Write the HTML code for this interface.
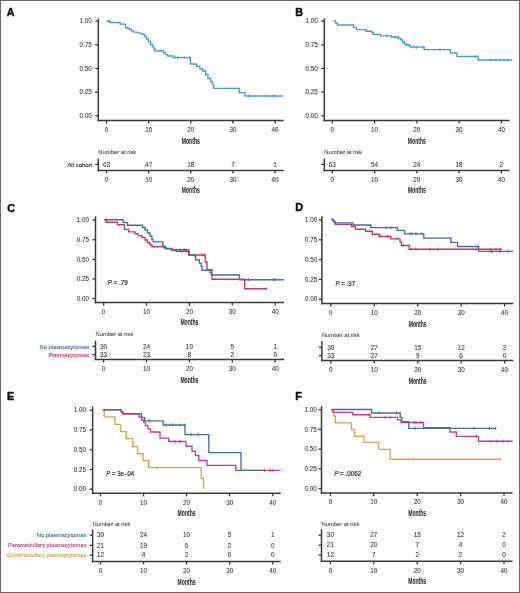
<!DOCTYPE html>
<html><head><meta charset="utf-8"><style>
html,body{margin:0;padding:0;background:#fff;}
.wrap{position:relative;width:520px;height:593px;overflow:hidden;background:#fff;}
.frame{position:absolute;left:0;top:0;width:518px;height:591px;border:1px solid #666;}
svg{position:absolute;left:0;top:0;will-change:transform;}
text{font-family:"Liberation Sans", sans-serif;}
</style></head><body><div class="wrap">
<svg width="520" height="593" viewBox="0 0 520 593">
<line x1="98.3" y1="18.5" x2="98.3" y2="121.35" stroke="#3a3a3a" stroke-width="1.5"/>
<line x1="97.55" y1="120.6" x2="283.7" y2="120.6" stroke="#3a3a3a" stroke-width="1.5"/>
<line x1="95.3" y1="115.8" x2="98.3" y2="115.8" stroke="#3a3a3a" stroke-width="1.3"/>
<text x="91.8" y="118.06" font-size="6.3" text-anchor="end" fill="#333333" stroke="#333333" stroke-width="0.06">0.00</text>
<line x1="95.3" y1="92.15" x2="98.3" y2="92.15" stroke="#3a3a3a" stroke-width="1.3"/>
<text x="91.8" y="94.41" font-size="6.3" text-anchor="end" fill="#333333" stroke="#333333" stroke-width="0.06">0.25</text>
<line x1="95.3" y1="68.5" x2="98.3" y2="68.5" stroke="#3a3a3a" stroke-width="1.3"/>
<text x="91.8" y="70.76" font-size="6.3" text-anchor="end" fill="#333333" stroke="#333333" stroke-width="0.06">0.50</text>
<line x1="95.3" y1="44.85" x2="98.3" y2="44.85" stroke="#3a3a3a" stroke-width="1.3"/>
<text x="91.8" y="47.11" font-size="6.3" text-anchor="end" fill="#333333" stroke="#333333" stroke-width="0.06">0.75</text>
<line x1="95.3" y1="21.2" x2="98.3" y2="21.2" stroke="#3a3a3a" stroke-width="1.3"/>
<text x="91.8" y="23.46" font-size="6.3" text-anchor="end" fill="#333333" stroke="#333333" stroke-width="0.06">1.00</text>
<line x1="106.5" y1="120.6" x2="106.5" y2="123.6" stroke="#3a3a3a" stroke-width="1.3"/>
<text x="106.5" y="132.46" font-size="6.3" text-anchor="middle" fill="#333333" stroke="#333333" stroke-width="0.06">0</text>
<line x1="148.65" y1="120.6" x2="148.65" y2="123.6" stroke="#3a3a3a" stroke-width="1.3"/>
<text x="148.65" y="132.46" font-size="6.3" text-anchor="middle" fill="#333333" stroke="#333333" stroke-width="0.06">10</text>
<line x1="190.8" y1="120.6" x2="190.8" y2="123.6" stroke="#3a3a3a" stroke-width="1.3"/>
<text x="190.8" y="132.46" font-size="6.3" text-anchor="middle" fill="#333333" stroke="#333333" stroke-width="0.06">20</text>
<line x1="232.95" y1="120.6" x2="232.95" y2="123.6" stroke="#3a3a3a" stroke-width="1.3"/>
<text x="232.95" y="132.46" font-size="6.3" text-anchor="middle" fill="#333333" stroke="#333333" stroke-width="0.06">30</text>
<line x1="275.1" y1="120.6" x2="275.1" y2="123.6" stroke="#3a3a3a" stroke-width="1.3"/>
<text x="275.1" y="132.46" font-size="6.3" text-anchor="middle" fill="#333333" stroke="#333333" stroke-width="0.06">40</text>
<text x="190.8" y="143.68" font-size="8.6" text-anchor="middle" fill="#2a2a2a" stroke="#2a2a2a" stroke-width="0.06" font-weight="bold" textLength="18" lengthAdjust="spacingAndGlyphs">Months</text>
<text x="98.3" y="154.35" font-size="6" text-anchor="start" fill="#3c3c3c" stroke="#3c3c3c" stroke-width="0.06" textLength="38" lengthAdjust="spacingAndGlyphs">Number at risk</text>
<line x1="98.3" y1="158.6" x2="98.3" y2="171.25" stroke="#3a3a3a" stroke-width="1.5"/>
<line x1="97.55" y1="170.5" x2="283.7" y2="170.5" stroke="#3a3a3a" stroke-width="1.5"/>
<line x1="95.3" y1="164.4" x2="98.3" y2="164.4" stroke="#3a3a3a" stroke-width="1.3"/>
<text x="92.2" y="166.58" font-size="6.1" text-anchor="end" fill="#2a2a2a" stroke="#2a2a2a" stroke-width="0.14" textLength="24.8" lengthAdjust="spacingAndGlyphs">All cohort</text>
<text x="106.5" y="166.69" font-size="6.4" text-anchor="middle" fill="#333333" stroke="#333333" stroke-width="0.06">63</text>
<text x="148.65" y="166.69" font-size="6.4" text-anchor="middle" fill="#333333" stroke="#333333" stroke-width="0.06">47</text>
<text x="190.8" y="166.69" font-size="6.4" text-anchor="middle" fill="#333333" stroke="#333333" stroke-width="0.06">18</text>
<text x="232.95" y="166.69" font-size="6.4" text-anchor="middle" fill="#333333" stroke="#333333" stroke-width="0.06">7</text>
<text x="275.1" y="166.69" font-size="6.4" text-anchor="middle" fill="#333333" stroke="#333333" stroke-width="0.06">1</text>
<line x1="106.5" y1="170.5" x2="106.5" y2="173.5" stroke="#3a3a3a" stroke-width="1.3"/>
<text x="106.5" y="182.16" font-size="6.3" text-anchor="middle" fill="#333333" stroke="#333333" stroke-width="0.06">0</text>
<line x1="148.65" y1="170.5" x2="148.65" y2="173.5" stroke="#3a3a3a" stroke-width="1.3"/>
<text x="148.65" y="182.16" font-size="6.3" text-anchor="middle" fill="#333333" stroke="#333333" stroke-width="0.06">10</text>
<line x1="190.8" y1="170.5" x2="190.8" y2="173.5" stroke="#3a3a3a" stroke-width="1.3"/>
<text x="190.8" y="182.16" font-size="6.3" text-anchor="middle" fill="#333333" stroke="#333333" stroke-width="0.06">20</text>
<line x1="232.95" y1="170.5" x2="232.95" y2="173.5" stroke="#3a3a3a" stroke-width="1.3"/>
<text x="232.95" y="182.16" font-size="6.3" text-anchor="middle" fill="#333333" stroke="#333333" stroke-width="0.06">30</text>
<line x1="275.1" y1="170.5" x2="275.1" y2="173.5" stroke="#3a3a3a" stroke-width="1.3"/>
<text x="275.1" y="182.16" font-size="6.3" text-anchor="middle" fill="#333333" stroke="#333333" stroke-width="0.06">40</text>
<text x="190.8" y="193.48" font-size="8.6" text-anchor="middle" fill="#2a2a2a" stroke="#2a2a2a" stroke-width="0.06" font-weight="bold" textLength="18" lengthAdjust="spacingAndGlyphs">Months</text>
<text x="6.8" y="15.77" font-size="10.8" font-weight="bold" fill="#111" stroke="#111" stroke-width="0.45">A</text>
<line x1="324.3" y1="18.5" x2="324.3" y2="121.35" stroke="#3a3a3a" stroke-width="1.5"/>
<line x1="323.55" y1="120.6" x2="509.6" y2="120.6" stroke="#3a3a3a" stroke-width="1.5"/>
<line x1="321.3" y1="115.8" x2="324.3" y2="115.8" stroke="#3a3a3a" stroke-width="1.3"/>
<text x="317.8" y="118.06" font-size="6.3" text-anchor="end" fill="#333333" stroke="#333333" stroke-width="0.06">0.00</text>
<line x1="321.3" y1="92.15" x2="324.3" y2="92.15" stroke="#3a3a3a" stroke-width="1.3"/>
<text x="317.8" y="94.41" font-size="6.3" text-anchor="end" fill="#333333" stroke="#333333" stroke-width="0.06">0.25</text>
<line x1="321.3" y1="68.5" x2="324.3" y2="68.5" stroke="#3a3a3a" stroke-width="1.3"/>
<text x="317.8" y="70.76" font-size="6.3" text-anchor="end" fill="#333333" stroke="#333333" stroke-width="0.06">0.50</text>
<line x1="321.3" y1="44.85" x2="324.3" y2="44.85" stroke="#3a3a3a" stroke-width="1.3"/>
<text x="317.8" y="47.11" font-size="6.3" text-anchor="end" fill="#333333" stroke="#333333" stroke-width="0.06">0.75</text>
<line x1="321.3" y1="21.2" x2="324.3" y2="21.2" stroke="#3a3a3a" stroke-width="1.3"/>
<text x="317.8" y="23.46" font-size="6.3" text-anchor="end" fill="#333333" stroke="#333333" stroke-width="0.06">1.00</text>
<line x1="332.3" y1="120.6" x2="332.3" y2="123.6" stroke="#3a3a3a" stroke-width="1.3"/>
<text x="332.3" y="132.46" font-size="6.3" text-anchor="middle" fill="#333333" stroke="#333333" stroke-width="0.06">0</text>
<line x1="374.57" y1="120.6" x2="374.57" y2="123.6" stroke="#3a3a3a" stroke-width="1.3"/>
<text x="374.57" y="132.46" font-size="6.3" text-anchor="middle" fill="#333333" stroke="#333333" stroke-width="0.06">10</text>
<line x1="416.85" y1="120.6" x2="416.85" y2="123.6" stroke="#3a3a3a" stroke-width="1.3"/>
<text x="416.85" y="132.46" font-size="6.3" text-anchor="middle" fill="#333333" stroke="#333333" stroke-width="0.06">20</text>
<line x1="459.12" y1="120.6" x2="459.12" y2="123.6" stroke="#3a3a3a" stroke-width="1.3"/>
<text x="459.12" y="132.46" font-size="6.3" text-anchor="middle" fill="#333333" stroke="#333333" stroke-width="0.06">30</text>
<line x1="501.4" y1="120.6" x2="501.4" y2="123.6" stroke="#3a3a3a" stroke-width="1.3"/>
<text x="501.4" y="132.46" font-size="6.3" text-anchor="middle" fill="#333333" stroke="#333333" stroke-width="0.06">40</text>
<text x="416.85" y="143.68" font-size="8.6" text-anchor="middle" fill="#2a2a2a" stroke="#2a2a2a" stroke-width="0.06" font-weight="bold" textLength="18" lengthAdjust="spacingAndGlyphs">Months</text>
<text x="324.3" y="154.35" font-size="6" text-anchor="start" fill="#3c3c3c" stroke="#3c3c3c" stroke-width="0.06" textLength="38" lengthAdjust="spacingAndGlyphs">Number at risk</text>
<line x1="324.3" y1="158.6" x2="324.3" y2="171.25" stroke="#3a3a3a" stroke-width="1.5"/>
<line x1="323.55" y1="170.5" x2="509.6" y2="170.5" stroke="#3a3a3a" stroke-width="1.5"/>
<line x1="321.3" y1="164.4" x2="324.3" y2="164.4" stroke="#3a3a3a" stroke-width="1.3"/>
<text x="332.3" y="166.69" font-size="6.4" text-anchor="middle" fill="#333333" stroke="#333333" stroke-width="0.06">63</text>
<text x="374.57" y="166.69" font-size="6.4" text-anchor="middle" fill="#333333" stroke="#333333" stroke-width="0.06">54</text>
<text x="416.85" y="166.69" font-size="6.4" text-anchor="middle" fill="#333333" stroke="#333333" stroke-width="0.06">24</text>
<text x="459.12" y="166.69" font-size="6.4" text-anchor="middle" fill="#333333" stroke="#333333" stroke-width="0.06">18</text>
<text x="501.4" y="166.69" font-size="6.4" text-anchor="middle" fill="#333333" stroke="#333333" stroke-width="0.06">2</text>
<line x1="332.3" y1="170.5" x2="332.3" y2="173.5" stroke="#3a3a3a" stroke-width="1.3"/>
<text x="332.3" y="182.16" font-size="6.3" text-anchor="middle" fill="#333333" stroke="#333333" stroke-width="0.06">0</text>
<line x1="374.57" y1="170.5" x2="374.57" y2="173.5" stroke="#3a3a3a" stroke-width="1.3"/>
<text x="374.57" y="182.16" font-size="6.3" text-anchor="middle" fill="#333333" stroke="#333333" stroke-width="0.06">10</text>
<line x1="416.85" y1="170.5" x2="416.85" y2="173.5" stroke="#3a3a3a" stroke-width="1.3"/>
<text x="416.85" y="182.16" font-size="6.3" text-anchor="middle" fill="#333333" stroke="#333333" stroke-width="0.06">20</text>
<line x1="459.12" y1="170.5" x2="459.12" y2="173.5" stroke="#3a3a3a" stroke-width="1.3"/>
<text x="459.12" y="182.16" font-size="6.3" text-anchor="middle" fill="#333333" stroke="#333333" stroke-width="0.06">30</text>
<line x1="501.4" y1="170.5" x2="501.4" y2="173.5" stroke="#3a3a3a" stroke-width="1.3"/>
<text x="501.4" y="182.16" font-size="6.3" text-anchor="middle" fill="#333333" stroke="#333333" stroke-width="0.06">40</text>
<text x="416.85" y="193.48" font-size="8.6" text-anchor="middle" fill="#2a2a2a" stroke="#2a2a2a" stroke-width="0.06" font-weight="bold" textLength="18" lengthAdjust="spacingAndGlyphs">Months</text>
<text x="295.3" y="15.77" font-size="10.8" font-weight="bold" fill="#111" stroke="#111" stroke-width="0.45">B</text>
<line x1="95.5" y1="216.3" x2="95.5" y2="303.35" stroke="#3a3a3a" stroke-width="1.5"/>
<line x1="94.75" y1="302.6" x2="284" y2="302.6" stroke="#3a3a3a" stroke-width="1.5"/>
<line x1="92.5" y1="298.6" x2="95.5" y2="298.6" stroke="#3a3a3a" stroke-width="1.3"/>
<text x="89" y="300.86" font-size="6.3" text-anchor="end" fill="#333333" stroke="#333333" stroke-width="0.06">0.00</text>
<line x1="92.5" y1="278.98" x2="95.5" y2="278.98" stroke="#3a3a3a" stroke-width="1.3"/>
<text x="89" y="281.23" font-size="6.3" text-anchor="end" fill="#333333" stroke="#333333" stroke-width="0.06">0.25</text>
<line x1="92.5" y1="259.35" x2="95.5" y2="259.35" stroke="#3a3a3a" stroke-width="1.3"/>
<text x="89" y="261.61" font-size="6.3" text-anchor="end" fill="#333333" stroke="#333333" stroke-width="0.06">0.50</text>
<line x1="92.5" y1="239.72" x2="95.5" y2="239.72" stroke="#3a3a3a" stroke-width="1.3"/>
<text x="89" y="241.98" font-size="6.3" text-anchor="end" fill="#333333" stroke="#333333" stroke-width="0.06">0.75</text>
<line x1="92.5" y1="220.1" x2="95.5" y2="220.1" stroke="#3a3a3a" stroke-width="1.3"/>
<text x="89" y="222.36" font-size="6.3" text-anchor="end" fill="#333333" stroke="#333333" stroke-width="0.06">1.00</text>
<line x1="103.6" y1="302.6" x2="103.6" y2="305.6" stroke="#3a3a3a" stroke-width="1.3"/>
<text x="103.6" y="313.56" font-size="6.3" text-anchor="middle" fill="#333333" stroke="#333333" stroke-width="0.06">0</text>
<line x1="146.5" y1="302.6" x2="146.5" y2="305.6" stroke="#3a3a3a" stroke-width="1.3"/>
<text x="146.5" y="313.56" font-size="6.3" text-anchor="middle" fill="#333333" stroke="#333333" stroke-width="0.06">10</text>
<line x1="189.4" y1="302.6" x2="189.4" y2="305.6" stroke="#3a3a3a" stroke-width="1.3"/>
<text x="189.4" y="313.56" font-size="6.3" text-anchor="middle" fill="#333333" stroke="#333333" stroke-width="0.06">20</text>
<line x1="232.3" y1="302.6" x2="232.3" y2="305.6" stroke="#3a3a3a" stroke-width="1.3"/>
<text x="232.3" y="313.56" font-size="6.3" text-anchor="middle" fill="#333333" stroke="#333333" stroke-width="0.06">30</text>
<line x1="275.2" y1="302.6" x2="275.2" y2="305.6" stroke="#3a3a3a" stroke-width="1.3"/>
<text x="275.2" y="313.56" font-size="6.3" text-anchor="middle" fill="#333333" stroke="#333333" stroke-width="0.06">40</text>
<text x="189.4" y="325.28" font-size="8.6" text-anchor="middle" fill="#2a2a2a" stroke="#2a2a2a" stroke-width="0.06" font-weight="bold" textLength="18" lengthAdjust="spacingAndGlyphs">Months</text>
<text x="95.5" y="335.75" font-size="6" text-anchor="start" fill="#3c3c3c" stroke="#3c3c3c" stroke-width="0.06" textLength="37.8" lengthAdjust="spacingAndGlyphs">Number at risk</text>
<line x1="95.5" y1="340.8" x2="95.5" y2="360.15" stroke="#3a3a3a" stroke-width="1.5"/>
<line x1="94.75" y1="359.4" x2="284" y2="359.4" stroke="#3a3a3a" stroke-width="1.5"/>
<line x1="92.5" y1="346.4" x2="95.5" y2="346.4" stroke="#3a3a3a" stroke-width="1.3"/>
<text x="89.2" y="348.58" font-size="6.1" text-anchor="end" fill="#4a6e94" stroke="#4a6e94" stroke-width="0.14" textLength="49.7" lengthAdjust="spacingAndGlyphs">No plasmacytomas</text>
<text x="103.6" y="348.69" font-size="6.4" text-anchor="middle" fill="#333333" stroke="#333333" stroke-width="0.06">30</text>
<text x="146.5" y="348.69" font-size="6.4" text-anchor="middle" fill="#333333" stroke="#333333" stroke-width="0.06">24</text>
<text x="189.4" y="348.69" font-size="6.4" text-anchor="middle" fill="#333333" stroke="#333333" stroke-width="0.06">10</text>
<text x="232.3" y="348.69" font-size="6.4" text-anchor="middle" fill="#333333" stroke="#333333" stroke-width="0.06">5</text>
<text x="275.2" y="348.69" font-size="6.4" text-anchor="middle" fill="#333333" stroke="#333333" stroke-width="0.06">1</text>
<line x1="92.5" y1="354.7" x2="95.5" y2="354.7" stroke="#3a3a3a" stroke-width="1.3"/>
<text x="89.2" y="356.88" font-size="6.1" text-anchor="end" fill="#c8385a" stroke="#c8385a" stroke-width="0.14" textLength="40.8" lengthAdjust="spacingAndGlyphs">Plasmacytomas</text>
<text x="103.6" y="356.99" font-size="6.4" text-anchor="middle" fill="#333333" stroke="#333333" stroke-width="0.06">33</text>
<text x="146.5" y="356.99" font-size="6.4" text-anchor="middle" fill="#333333" stroke="#333333" stroke-width="0.06">23</text>
<text x="189.4" y="356.99" font-size="6.4" text-anchor="middle" fill="#333333" stroke="#333333" stroke-width="0.06">8</text>
<text x="232.3" y="356.99" font-size="6.4" text-anchor="middle" fill="#333333" stroke="#333333" stroke-width="0.06">2</text>
<text x="275.2" y="356.99" font-size="6.4" text-anchor="middle" fill="#333333" stroke="#333333" stroke-width="0.06">0</text>
<line x1="103.6" y1="359.4" x2="103.6" y2="362.4" stroke="#3a3a3a" stroke-width="1.3"/>
<text x="103.6" y="370.86" font-size="6.3" text-anchor="middle" fill="#333333" stroke="#333333" stroke-width="0.06">0</text>
<line x1="146.5" y1="359.4" x2="146.5" y2="362.4" stroke="#3a3a3a" stroke-width="1.3"/>
<text x="146.5" y="370.86" font-size="6.3" text-anchor="middle" fill="#333333" stroke="#333333" stroke-width="0.06">10</text>
<line x1="189.4" y1="359.4" x2="189.4" y2="362.4" stroke="#3a3a3a" stroke-width="1.3"/>
<text x="189.4" y="370.86" font-size="6.3" text-anchor="middle" fill="#333333" stroke="#333333" stroke-width="0.06">20</text>
<line x1="232.3" y1="359.4" x2="232.3" y2="362.4" stroke="#3a3a3a" stroke-width="1.3"/>
<text x="232.3" y="370.86" font-size="6.3" text-anchor="middle" fill="#333333" stroke="#333333" stroke-width="0.06">30</text>
<line x1="275.2" y1="359.4" x2="275.2" y2="362.4" stroke="#3a3a3a" stroke-width="1.3"/>
<text x="275.2" y="370.86" font-size="6.3" text-anchor="middle" fill="#333333" stroke="#333333" stroke-width="0.06">40</text>
<text x="189.4" y="382.68" font-size="8.6" text-anchor="middle" fill="#2a2a2a" stroke="#2a2a2a" stroke-width="0.06" font-weight="bold" textLength="18" lengthAdjust="spacingAndGlyphs">Months</text>
<text x="7.2" y="212.07" font-size="10.8" font-weight="bold" fill="#111" stroke="#111" stroke-width="0.45">C</text>
<text x="107.7" y="285.16" font-size="6.6" fill="#333333" stroke="#333" stroke-width="0.22" textLength="20" lengthAdjust="spacingAndGlyphs"><tspan font-style="italic">P</tspan> = .79</text>
<line x1="321.9" y1="216.2" x2="321.9" y2="304.25" stroke="#3a3a3a" stroke-width="1.5"/>
<line x1="321.15" y1="303.5" x2="513.3" y2="303.5" stroke="#3a3a3a" stroke-width="1.5"/>
<line x1="318.9" y1="299.2" x2="321.9" y2="299.2" stroke="#3a3a3a" stroke-width="1.3"/>
<text x="317.2" y="301.46" font-size="6.3" text-anchor="end" fill="#333333" stroke="#333333" stroke-width="0.06">0.00</text>
<line x1="318.9" y1="279.4" x2="321.9" y2="279.4" stroke="#3a3a3a" stroke-width="1.3"/>
<text x="317.2" y="281.66" font-size="6.3" text-anchor="end" fill="#333333" stroke="#333333" stroke-width="0.06">0.25</text>
<line x1="318.9" y1="259.6" x2="321.9" y2="259.6" stroke="#3a3a3a" stroke-width="1.3"/>
<text x="317.2" y="261.86" font-size="6.3" text-anchor="end" fill="#333333" stroke="#333333" stroke-width="0.06">0.50</text>
<line x1="318.9" y1="239.8" x2="321.9" y2="239.8" stroke="#3a3a3a" stroke-width="1.3"/>
<text x="317.2" y="242.06" font-size="6.3" text-anchor="end" fill="#333333" stroke="#333333" stroke-width="0.06">0.75</text>
<line x1="318.9" y1="220" x2="321.9" y2="220" stroke="#3a3a3a" stroke-width="1.3"/>
<text x="317.2" y="222.26" font-size="6.3" text-anchor="end" fill="#333333" stroke="#333333" stroke-width="0.06">1.00</text>
<line x1="330.8" y1="303.5" x2="330.8" y2="306.5" stroke="#3a3a3a" stroke-width="1.3"/>
<text x="330.8" y="314.56" font-size="6.3" text-anchor="middle" fill="#333333" stroke="#333333" stroke-width="0.06">0</text>
<line x1="374.25" y1="303.5" x2="374.25" y2="306.5" stroke="#3a3a3a" stroke-width="1.3"/>
<text x="374.25" y="314.56" font-size="6.3" text-anchor="middle" fill="#333333" stroke="#333333" stroke-width="0.06">10</text>
<line x1="417.7" y1="303.5" x2="417.7" y2="306.5" stroke="#3a3a3a" stroke-width="1.3"/>
<text x="417.7" y="314.56" font-size="6.3" text-anchor="middle" fill="#333333" stroke="#333333" stroke-width="0.06">20</text>
<line x1="461.15" y1="303.5" x2="461.15" y2="306.5" stroke="#3a3a3a" stroke-width="1.3"/>
<text x="461.15" y="314.56" font-size="6.3" text-anchor="middle" fill="#333333" stroke="#333333" stroke-width="0.06">30</text>
<line x1="504.6" y1="303.5" x2="504.6" y2="306.5" stroke="#3a3a3a" stroke-width="1.3"/>
<text x="504.6" y="314.56" font-size="6.3" text-anchor="middle" fill="#333333" stroke="#333333" stroke-width="0.06">40</text>
<text x="417.7" y="326.58" font-size="8.6" text-anchor="middle" fill="#2a2a2a" stroke="#2a2a2a" stroke-width="0.06" font-weight="bold" textLength="18" lengthAdjust="spacingAndGlyphs">Months</text>
<text x="321.9" y="336.65" font-size="6" text-anchor="start" fill="#3c3c3c" stroke="#3c3c3c" stroke-width="0.06" textLength="37.8" lengthAdjust="spacingAndGlyphs">Number at risk</text>
<line x1="321.9" y1="341.2" x2="321.9" y2="361.25" stroke="#3a3a3a" stroke-width="1.5"/>
<line x1="321.15" y1="360.5" x2="513.3" y2="360.5" stroke="#3a3a3a" stroke-width="1.5"/>
<line x1="318.9" y1="347.4" x2="321.9" y2="347.4" stroke="#3a3a3a" stroke-width="1.3"/>
<text x="330.8" y="349.69" font-size="6.4" text-anchor="middle" fill="#333333" stroke="#333333" stroke-width="0.06">30</text>
<text x="374.25" y="349.69" font-size="6.4" text-anchor="middle" fill="#333333" stroke="#333333" stroke-width="0.06">27</text>
<text x="417.7" y="349.69" font-size="6.4" text-anchor="middle" fill="#333333" stroke="#333333" stroke-width="0.06">15</text>
<text x="461.15" y="349.69" font-size="6.4" text-anchor="middle" fill="#333333" stroke="#333333" stroke-width="0.06">12</text>
<text x="504.6" y="349.69" font-size="6.4" text-anchor="middle" fill="#333333" stroke="#333333" stroke-width="0.06">2</text>
<line x1="318.9" y1="355.5" x2="321.9" y2="355.5" stroke="#3a3a3a" stroke-width="1.3"/>
<text x="330.8" y="357.79" font-size="6.4" text-anchor="middle" fill="#333333" stroke="#333333" stroke-width="0.06">33</text>
<text x="374.25" y="357.79" font-size="6.4" text-anchor="middle" fill="#333333" stroke="#333333" stroke-width="0.06">27</text>
<text x="417.7" y="357.79" font-size="6.4" text-anchor="middle" fill="#333333" stroke="#333333" stroke-width="0.06">9</text>
<text x="461.15" y="357.79" font-size="6.4" text-anchor="middle" fill="#333333" stroke="#333333" stroke-width="0.06">6</text>
<text x="504.6" y="357.79" font-size="6.4" text-anchor="middle" fill="#333333" stroke="#333333" stroke-width="0.06">0</text>
<line x1="330.8" y1="360.5" x2="330.8" y2="363.5" stroke="#3a3a3a" stroke-width="1.3"/>
<text x="330.8" y="372.26" font-size="6.3" text-anchor="middle" fill="#333333" stroke="#333333" stroke-width="0.06">0</text>
<line x1="374.25" y1="360.5" x2="374.25" y2="363.5" stroke="#3a3a3a" stroke-width="1.3"/>
<text x="374.25" y="372.26" font-size="6.3" text-anchor="middle" fill="#333333" stroke="#333333" stroke-width="0.06">10</text>
<line x1="417.7" y1="360.5" x2="417.7" y2="363.5" stroke="#3a3a3a" stroke-width="1.3"/>
<text x="417.7" y="372.26" font-size="6.3" text-anchor="middle" fill="#333333" stroke="#333333" stroke-width="0.06">20</text>
<line x1="461.15" y1="360.5" x2="461.15" y2="363.5" stroke="#3a3a3a" stroke-width="1.3"/>
<text x="461.15" y="372.26" font-size="6.3" text-anchor="middle" fill="#333333" stroke="#333333" stroke-width="0.06">30</text>
<line x1="504.6" y1="360.5" x2="504.6" y2="363.5" stroke="#3a3a3a" stroke-width="1.3"/>
<text x="504.6" y="372.26" font-size="6.3" text-anchor="middle" fill="#333333" stroke="#333333" stroke-width="0.06">40</text>
<text x="417.7" y="383.88" font-size="8.6" text-anchor="middle" fill="#2a2a2a" stroke="#2a2a2a" stroke-width="0.06" font-weight="bold" textLength="18" lengthAdjust="spacingAndGlyphs">Months</text>
<text x="295.3" y="211.17" font-size="10.8" font-weight="bold" fill="#111" stroke="#111" stroke-width="0.45">D</text>
<text x="335.6" y="285.86" font-size="6.6" fill="#333333" stroke="#333" stroke-width="0.22" textLength="19.5" lengthAdjust="spacingAndGlyphs"><tspan font-style="italic">P</tspan> = .37</text>
<line x1="92.6" y1="406.5" x2="92.6" y2="494.05" stroke="#3a3a3a" stroke-width="1.5"/>
<line x1="91.85" y1="493.3" x2="280.8" y2="493.3" stroke="#3a3a3a" stroke-width="1.5"/>
<line x1="89.6" y1="489.2" x2="92.6" y2="489.2" stroke="#3a3a3a" stroke-width="1.3"/>
<text x="86" y="491.46" font-size="6.3" text-anchor="end" fill="#333333" stroke="#333333" stroke-width="0.06">0.00</text>
<line x1="89.6" y1="469.45" x2="92.6" y2="469.45" stroke="#3a3a3a" stroke-width="1.3"/>
<text x="86" y="471.71" font-size="6.3" text-anchor="end" fill="#333333" stroke="#333333" stroke-width="0.06">0.25</text>
<line x1="89.6" y1="449.7" x2="92.6" y2="449.7" stroke="#3a3a3a" stroke-width="1.3"/>
<text x="86" y="451.96" font-size="6.3" text-anchor="end" fill="#333333" stroke="#333333" stroke-width="0.06">0.50</text>
<line x1="89.6" y1="429.95" x2="92.6" y2="429.95" stroke="#3a3a3a" stroke-width="1.3"/>
<text x="86" y="432.21" font-size="6.3" text-anchor="end" fill="#333333" stroke="#333333" stroke-width="0.06">0.75</text>
<line x1="89.6" y1="410.2" x2="92.6" y2="410.2" stroke="#3a3a3a" stroke-width="1.3"/>
<text x="86" y="412.46" font-size="6.3" text-anchor="end" fill="#333333" stroke="#333333" stroke-width="0.06">1.00</text>
<line x1="100.5" y1="493.3" x2="100.5" y2="496.3" stroke="#3a3a3a" stroke-width="1.3"/>
<text x="100.5" y="504.66" font-size="6.3" text-anchor="middle" fill="#333333" stroke="#333333" stroke-width="0.06">0</text>
<line x1="143.55" y1="493.3" x2="143.55" y2="496.3" stroke="#3a3a3a" stroke-width="1.3"/>
<text x="143.55" y="504.66" font-size="6.3" text-anchor="middle" fill="#333333" stroke="#333333" stroke-width="0.06">10</text>
<line x1="186.6" y1="493.3" x2="186.6" y2="496.3" stroke="#3a3a3a" stroke-width="1.3"/>
<text x="186.6" y="504.66" font-size="6.3" text-anchor="middle" fill="#333333" stroke="#333333" stroke-width="0.06">20</text>
<line x1="229.65" y1="493.3" x2="229.65" y2="496.3" stroke="#3a3a3a" stroke-width="1.3"/>
<text x="229.65" y="504.66" font-size="6.3" text-anchor="middle" fill="#333333" stroke="#333333" stroke-width="0.06">30</text>
<line x1="272.7" y1="493.3" x2="272.7" y2="496.3" stroke="#3a3a3a" stroke-width="1.3"/>
<text x="272.7" y="504.66" font-size="6.3" text-anchor="middle" fill="#333333" stroke="#333333" stroke-width="0.06">40</text>
<text x="186.6" y="516.08" font-size="8.6" text-anchor="middle" fill="#2a2a2a" stroke="#2a2a2a" stroke-width="0.06" font-weight="bold" textLength="18" lengthAdjust="spacingAndGlyphs">Months</text>
<text x="92.6" y="526.45" font-size="6" text-anchor="start" fill="#3c3c3c" stroke="#3c3c3c" stroke-width="0.06" textLength="37.8" lengthAdjust="spacingAndGlyphs">Number at risk</text>
<line x1="92.6" y1="529.5" x2="92.6" y2="562.15" stroke="#3a3a3a" stroke-width="1.5"/>
<line x1="91.85" y1="561.4" x2="280.8" y2="561.4" stroke="#3a3a3a" stroke-width="1.5"/>
<line x1="89.6" y1="535.2" x2="92.6" y2="535.2" stroke="#3a3a3a" stroke-width="1.3"/>
<text x="86.4" y="537.38" font-size="6.1" text-anchor="end" fill="#4a6e94" stroke="#4a6e94" stroke-width="0.14" textLength="49.6" lengthAdjust="spacingAndGlyphs">No plasmacytomas</text>
<text x="100.5" y="537.49" font-size="6.4" text-anchor="middle" fill="#333333" stroke="#333333" stroke-width="0.06">30</text>
<text x="143.55" y="537.49" font-size="6.4" text-anchor="middle" fill="#333333" stroke="#333333" stroke-width="0.06">24</text>
<text x="186.6" y="537.49" font-size="6.4" text-anchor="middle" fill="#333333" stroke="#333333" stroke-width="0.06">10</text>
<text x="229.65" y="537.49" font-size="6.4" text-anchor="middle" fill="#333333" stroke="#333333" stroke-width="0.06">5</text>
<text x="272.7" y="537.49" font-size="6.4" text-anchor="middle" fill="#333333" stroke="#333333" stroke-width="0.06">1</text>
<line x1="89.6" y1="545.3" x2="92.6" y2="545.3" stroke="#3a3a3a" stroke-width="1.3"/>
<text x="86.4" y="547.48" font-size="6.1" text-anchor="end" fill="#c43d88" stroke="#c43d88" stroke-width="0.14" textLength="78.5" lengthAdjust="spacingAndGlyphs">Paramedullary plasmacytomas</text>
<text x="100.5" y="547.59" font-size="6.4" text-anchor="middle" fill="#333333" stroke="#333333" stroke-width="0.06">21</text>
<text x="143.55" y="547.59" font-size="6.4" text-anchor="middle" fill="#333333" stroke="#333333" stroke-width="0.06">19</text>
<text x="186.6" y="547.59" font-size="6.4" text-anchor="middle" fill="#333333" stroke="#333333" stroke-width="0.06">6</text>
<text x="229.65" y="547.59" font-size="6.4" text-anchor="middle" fill="#333333" stroke="#333333" stroke-width="0.06">2</text>
<text x="272.7" y="547.59" font-size="6.4" text-anchor="middle" fill="#333333" stroke="#333333" stroke-width="0.06">0</text>
<line x1="89.6" y1="555.1" x2="92.6" y2="555.1" stroke="#3a3a3a" stroke-width="1.3"/>
<text x="86.4" y="557.28" font-size="6.1" text-anchor="end" fill="#d5a35a" stroke="#d5a35a" stroke-width="0.14" textLength="79.5" lengthAdjust="spacingAndGlyphs">Extramedullary plasmacytomas</text>
<text x="100.5" y="557.39" font-size="6.4" text-anchor="middle" fill="#333333" stroke="#333333" stroke-width="0.06">12</text>
<text x="143.55" y="557.39" font-size="6.4" text-anchor="middle" fill="#333333" stroke="#333333" stroke-width="0.06">4</text>
<text x="186.6" y="557.39" font-size="6.4" text-anchor="middle" fill="#333333" stroke="#333333" stroke-width="0.06">2</text>
<text x="229.65" y="557.39" font-size="6.4" text-anchor="middle" fill="#333333" stroke="#333333" stroke-width="0.06">0</text>
<text x="272.7" y="557.39" font-size="6.4" text-anchor="middle" fill="#333333" stroke="#333333" stroke-width="0.06">0</text>
<line x1="100.5" y1="561.4" x2="100.5" y2="564.4" stroke="#3a3a3a" stroke-width="1.3"/>
<text x="100.5" y="573.26" font-size="6.3" text-anchor="middle" fill="#333333" stroke="#333333" stroke-width="0.06">0</text>
<line x1="143.55" y1="561.4" x2="143.55" y2="564.4" stroke="#3a3a3a" stroke-width="1.3"/>
<text x="143.55" y="573.26" font-size="6.3" text-anchor="middle" fill="#333333" stroke="#333333" stroke-width="0.06">10</text>
<line x1="186.6" y1="561.4" x2="186.6" y2="564.4" stroke="#3a3a3a" stroke-width="1.3"/>
<text x="186.6" y="573.26" font-size="6.3" text-anchor="middle" fill="#333333" stroke="#333333" stroke-width="0.06">20</text>
<line x1="229.65" y1="561.4" x2="229.65" y2="564.4" stroke="#3a3a3a" stroke-width="1.3"/>
<text x="229.65" y="573.26" font-size="6.3" text-anchor="middle" fill="#333333" stroke="#333333" stroke-width="0.06">30</text>
<line x1="272.7" y1="561.4" x2="272.7" y2="564.4" stroke="#3a3a3a" stroke-width="1.3"/>
<text x="272.7" y="573.26" font-size="6.3" text-anchor="middle" fill="#333333" stroke="#333333" stroke-width="0.06">40</text>
<text x="186.6" y="584.68" font-size="8.6" text-anchor="middle" fill="#2a2a2a" stroke="#2a2a2a" stroke-width="0.06" font-weight="bold" textLength="18" lengthAdjust="spacingAndGlyphs">Months</text>
<text x="6.9" y="400.27" font-size="10.8" font-weight="bold" fill="#111" stroke="#111" stroke-width="0.45">E</text>
<text x="106.2" y="476.06" font-size="6.6" fill="#333333" stroke="#333" stroke-width="0.22" textLength="28" lengthAdjust="spacingAndGlyphs"><tspan font-style="italic">P</tspan> = 3e–04</text>
<line x1="321.5" y1="406.2" x2="321.5" y2="493.75" stroke="#3a3a3a" stroke-width="1.5"/>
<line x1="320.75" y1="493" x2="512.6" y2="493" stroke="#3a3a3a" stroke-width="1.5"/>
<line x1="318.5" y1="488.6" x2="321.5" y2="488.6" stroke="#3a3a3a" stroke-width="1.3"/>
<text x="316.8" y="490.86" font-size="6.3" text-anchor="end" fill="#333333" stroke="#333333" stroke-width="0.06">0.00</text>
<line x1="318.5" y1="468.88" x2="321.5" y2="468.88" stroke="#3a3a3a" stroke-width="1.3"/>
<text x="316.8" y="471.13" font-size="6.3" text-anchor="end" fill="#333333" stroke="#333333" stroke-width="0.06">0.25</text>
<line x1="318.5" y1="449.15" x2="321.5" y2="449.15" stroke="#3a3a3a" stroke-width="1.3"/>
<text x="316.8" y="451.41" font-size="6.3" text-anchor="end" fill="#333333" stroke="#333333" stroke-width="0.06">0.50</text>
<line x1="318.5" y1="429.43" x2="321.5" y2="429.43" stroke="#3a3a3a" stroke-width="1.3"/>
<text x="316.8" y="431.68" font-size="6.3" text-anchor="end" fill="#333333" stroke="#333333" stroke-width="0.06">0.75</text>
<line x1="318.5" y1="409.7" x2="321.5" y2="409.7" stroke="#3a3a3a" stroke-width="1.3"/>
<text x="316.8" y="411.96" font-size="6.3" text-anchor="end" fill="#333333" stroke="#333333" stroke-width="0.06">1.00</text>
<line x1="330.4" y1="493" x2="330.4" y2="496" stroke="#3a3a3a" stroke-width="1.3"/>
<text x="330.4" y="504.06" font-size="6.3" text-anchor="middle" fill="#333333" stroke="#333333" stroke-width="0.06">0</text>
<line x1="373.8" y1="493" x2="373.8" y2="496" stroke="#3a3a3a" stroke-width="1.3"/>
<text x="373.8" y="504.06" font-size="6.3" text-anchor="middle" fill="#333333" stroke="#333333" stroke-width="0.06">10</text>
<line x1="417.2" y1="493" x2="417.2" y2="496" stroke="#3a3a3a" stroke-width="1.3"/>
<text x="417.2" y="504.06" font-size="6.3" text-anchor="middle" fill="#333333" stroke="#333333" stroke-width="0.06">20</text>
<line x1="460.6" y1="493" x2="460.6" y2="496" stroke="#3a3a3a" stroke-width="1.3"/>
<text x="460.6" y="504.06" font-size="6.3" text-anchor="middle" fill="#333333" stroke="#333333" stroke-width="0.06">30</text>
<line x1="504" y1="493" x2="504" y2="496" stroke="#3a3a3a" stroke-width="1.3"/>
<text x="504" y="504.06" font-size="6.3" text-anchor="middle" fill="#333333" stroke="#333333" stroke-width="0.06">40</text>
<text x="417.2" y="516.08" font-size="8.6" text-anchor="middle" fill="#2a2a2a" stroke="#2a2a2a" stroke-width="0.06" font-weight="bold" textLength="18" lengthAdjust="spacingAndGlyphs">Months</text>
<text x="321.5" y="526.35" font-size="6" text-anchor="start" fill="#3c3c3c" stroke="#3c3c3c" stroke-width="0.06" textLength="37.8" lengthAdjust="spacingAndGlyphs">Number at risk</text>
<line x1="321.5" y1="529.3" x2="321.5" y2="561.95" stroke="#3a3a3a" stroke-width="1.5"/>
<line x1="320.75" y1="561.2" x2="512.6" y2="561.2" stroke="#3a3a3a" stroke-width="1.5"/>
<line x1="318.5" y1="535.2" x2="321.5" y2="535.2" stroke="#3a3a3a" stroke-width="1.3"/>
<text x="330.4" y="537.49" font-size="6.4" text-anchor="middle" fill="#333333" stroke="#333333" stroke-width="0.06">30</text>
<text x="373.8" y="537.49" font-size="6.4" text-anchor="middle" fill="#333333" stroke="#333333" stroke-width="0.06">27</text>
<text x="417.2" y="537.49" font-size="6.4" text-anchor="middle" fill="#333333" stroke="#333333" stroke-width="0.06">15</text>
<text x="460.6" y="537.49" font-size="6.4" text-anchor="middle" fill="#333333" stroke="#333333" stroke-width="0.06">12</text>
<text x="504" y="537.49" font-size="6.4" text-anchor="middle" fill="#333333" stroke="#333333" stroke-width="0.06">2</text>
<line x1="318.5" y1="545.2" x2="321.5" y2="545.2" stroke="#3a3a3a" stroke-width="1.3"/>
<text x="330.4" y="547.49" font-size="6.4" text-anchor="middle" fill="#333333" stroke="#333333" stroke-width="0.06">21</text>
<text x="373.8" y="547.49" font-size="6.4" text-anchor="middle" fill="#333333" stroke="#333333" stroke-width="0.06">20</text>
<text x="417.2" y="547.49" font-size="6.4" text-anchor="middle" fill="#333333" stroke="#333333" stroke-width="0.06">7</text>
<text x="460.6" y="547.49" font-size="6.4" text-anchor="middle" fill="#333333" stroke="#333333" stroke-width="0.06">4</text>
<text x="504" y="547.49" font-size="6.4" text-anchor="middle" fill="#333333" stroke="#333333" stroke-width="0.06">0</text>
<line x1="318.5" y1="555.1" x2="321.5" y2="555.1" stroke="#3a3a3a" stroke-width="1.3"/>
<text x="330.4" y="557.39" font-size="6.4" text-anchor="middle" fill="#333333" stroke="#333333" stroke-width="0.06">12</text>
<text x="373.8" y="557.39" font-size="6.4" text-anchor="middle" fill="#333333" stroke="#333333" stroke-width="0.06">7</text>
<text x="417.2" y="557.39" font-size="6.4" text-anchor="middle" fill="#333333" stroke="#333333" stroke-width="0.06">2</text>
<text x="460.6" y="557.39" font-size="6.4" text-anchor="middle" fill="#333333" stroke="#333333" stroke-width="0.06">2</text>
<text x="504" y="557.39" font-size="6.4" text-anchor="middle" fill="#333333" stroke="#333333" stroke-width="0.06">0</text>
<line x1="330.4" y1="561.2" x2="330.4" y2="564.2" stroke="#3a3a3a" stroke-width="1.3"/>
<text x="330.4" y="572.86" font-size="6.3" text-anchor="middle" fill="#333333" stroke="#333333" stroke-width="0.06">0</text>
<line x1="373.8" y1="561.2" x2="373.8" y2="564.2" stroke="#3a3a3a" stroke-width="1.3"/>
<text x="373.8" y="572.86" font-size="6.3" text-anchor="middle" fill="#333333" stroke="#333333" stroke-width="0.06">10</text>
<line x1="417.2" y1="561.2" x2="417.2" y2="564.2" stroke="#3a3a3a" stroke-width="1.3"/>
<text x="417.2" y="572.86" font-size="6.3" text-anchor="middle" fill="#333333" stroke="#333333" stroke-width="0.06">20</text>
<line x1="460.6" y1="561.2" x2="460.6" y2="564.2" stroke="#3a3a3a" stroke-width="1.3"/>
<text x="460.6" y="572.86" font-size="6.3" text-anchor="middle" fill="#333333" stroke="#333333" stroke-width="0.06">30</text>
<line x1="504" y1="561.2" x2="504" y2="564.2" stroke="#3a3a3a" stroke-width="1.3"/>
<text x="504" y="572.86" font-size="6.3" text-anchor="middle" fill="#333333" stroke="#333333" stroke-width="0.06">40</text>
<text x="417.2" y="584.38" font-size="8.6" text-anchor="middle" fill="#2a2a2a" stroke="#2a2a2a" stroke-width="0.06" font-weight="bold" textLength="18" lengthAdjust="spacingAndGlyphs">Months</text>
<text x="295.3" y="400.27" font-size="10.8" font-weight="bold" fill="#111" stroke="#111" stroke-width="0.45">F</text>
<text x="334.2" y="475.86" font-size="6.6" fill="#333333" stroke="#333" stroke-width="0.22" textLength="27" lengthAdjust="spacingAndGlyphs"><tspan font-style="italic">P</tspan> = .0062</text>
<path d="M106.5 21.2H110.1V22.5H120.2V24.1H125.5V27.5H127.5V28.5H129.5V29.4H131.5V30.9H133.5V32.1H137.5V32.8H140V33.6H142.5V34.4H144.5V36.5H146.5V39H148.5V41.5H150.5V44.5H152.5V46.8H153.9V49.2H154.9V51H163.5V52.6H165.3V54.4H167.6V56H173.5V57.6H190.5V64H196.5V66.3H199.8V68.7H202.7V71H205.6V74.4H207.9V78.5H210.8V81.9H212.5V84.8H213.7V88.4H239.2V92.6H245V96H283" fill="none" stroke="#4a9dc0" stroke-width="1.35" stroke-linejoin="miter" stroke-linecap="butt"/>
<line x1="109.1" y1="19.6" x2="109.1" y2="22.8" stroke="#4a9dc0" stroke-width="0.9"/>
<line x1="175" y1="56" x2="175" y2="59.2" stroke="#4a9dc0" stroke-width="0.9"/>
<line x1="177.9" y1="56" x2="177.9" y2="59.2" stroke="#4a9dc0" stroke-width="0.9"/>
<line x1="184.2" y1="56" x2="184.2" y2="59.2" stroke="#4a9dc0" stroke-width="0.9"/>
<line x1="189.4" y1="56" x2="189.4" y2="59.2" stroke="#4a9dc0" stroke-width="0.9"/>
<line x1="196.9" y1="64.7" x2="196.9" y2="67.9" stroke="#4a9dc0" stroke-width="0.9"/>
<line x1="205.6" y1="72.8" x2="205.6" y2="76" stroke="#4a9dc0" stroke-width="0.9"/>
<line x1="248.5" y1="94.4" x2="248.5" y2="97.6" stroke="#4a9dc0" stroke-width="0.9"/>
<line x1="265.8" y1="94.4" x2="265.8" y2="97.6" stroke="#4a9dc0" stroke-width="0.9"/>
<line x1="273.4" y1="94.4" x2="273.4" y2="97.6" stroke="#4a9dc0" stroke-width="0.9"/>
<line x1="275" y1="94.4" x2="275" y2="97.6" stroke="#4a9dc0" stroke-width="0.9"/>
<path d="M333.1 20.8H335.6V23.1H337.5V25H353.5V27.3H356.5V29.6H366.3V31.2H371.9V32.7H373.4V34.3H380.6V35.8H391.6V37.2H398.4V38.5H400.8V39.9H402.7V42.3H404.6V44.2H406.5V44.7H408.9V45.7H410.4V47.1H424.2V49.6H450.3V53H457V56.5H478V60H512.4" fill="none" stroke="#4a9dc0" stroke-width="1.35" stroke-linejoin="miter" stroke-linecap="butt"/>
<line x1="387" y1="34.2" x2="387" y2="37.4" stroke="#4a9dc0" stroke-width="0.9"/>
<line x1="395" y1="35.6" x2="395" y2="38.8" stroke="#4a9dc0" stroke-width="0.9"/>
<line x1="398" y1="35.6" x2="398" y2="38.8" stroke="#4a9dc0" stroke-width="0.9"/>
<line x1="404" y1="40.7" x2="404" y2="43.9" stroke="#4a9dc0" stroke-width="0.9"/>
<line x1="407" y1="43.1" x2="407" y2="46.3" stroke="#4a9dc0" stroke-width="0.9"/>
<line x1="414" y1="45.5" x2="414" y2="48.7" stroke="#4a9dc0" stroke-width="0.9"/>
<line x1="417" y1="45.5" x2="417" y2="48.7" stroke="#4a9dc0" stroke-width="0.9"/>
<line x1="423" y1="45.5" x2="423" y2="48.7" stroke="#4a9dc0" stroke-width="0.9"/>
<line x1="440" y1="48" x2="440" y2="51.2" stroke="#4a9dc0" stroke-width="0.9"/>
<line x1="475" y1="54.9" x2="475" y2="58.1" stroke="#4a9dc0" stroke-width="0.9"/>
<line x1="491" y1="58.4" x2="491" y2="61.6" stroke="#4a9dc0" stroke-width="0.9"/>
<line x1="496" y1="58.4" x2="496" y2="61.6" stroke="#4a9dc0" stroke-width="0.9"/>
<line x1="500" y1="58.4" x2="500" y2="61.6" stroke="#4a9dc0" stroke-width="0.9"/>
<line x1="504" y1="58.4" x2="504" y2="61.6" stroke="#4a9dc0" stroke-width="0.9"/>
<line x1="508" y1="58.4" x2="508" y2="61.6" stroke="#4a9dc0" stroke-width="0.9"/>
<path d="M104.4 219.75H106.25V222.25H117.5V224.75H124.4V229.4H128.75V231.9H135V233.75H138.1V235.6H141.9V237.5H145V240H147.5V242.75H150V245H151.9V246.7H163.75V247.5H166.25V248.75H171.25V249.75H188.5V255H205.2V262H207V269.7H212V279.2H244.7V288.7H266.6" fill="none" stroke="#c8385a" stroke-width="1.35" stroke-linejoin="miter" stroke-linecap="butt"/>
<path d="M104.4 219.75H123.1V222.5H127.5V225.25H142.5V227.5H145V230H147.5V233H150V236.25H151.9V239.4H153.1V241.9H162.8V246.25H165V248.5H171.25V250H176.25V251.25H189.2V255H195V256.25H195.6V260H199.4V263.1H201.25V266.25H201.9V270.25H210V272.5H211.25V275H239.5V279.7H284" fill="none" stroke="#4a6e94" stroke-width="1.35" stroke-linejoin="miter" stroke-linecap="butt"/>
<line x1="176" y1="248.4" x2="176" y2="251.6" stroke="#4a6e94" stroke-width="0.9"/>
<line x1="182" y1="249.65" x2="182" y2="252.85" stroke="#4a6e94" stroke-width="0.9"/>
<line x1="186" y1="249.65" x2="186" y2="252.85" stroke="#4a6e94" stroke-width="0.9"/>
<line x1="248.5" y1="278.1" x2="248.5" y2="281.3" stroke="#4a6e94" stroke-width="0.9"/>
<line x1="273.6" y1="278.1" x2="273.6" y2="281.3" stroke="#4a6e94" stroke-width="0.9"/>
<line x1="275.3" y1="278.1" x2="275.3" y2="281.3" stroke="#4a6e94" stroke-width="0.9"/>
<line x1="106" y1="218.15" x2="106" y2="221.35" stroke="#c8385a" stroke-width="0.9"/>
<line x1="173" y1="248.15" x2="173" y2="251.35" stroke="#c8385a" stroke-width="0.9"/>
<line x1="180" y1="248.15" x2="180" y2="251.35" stroke="#c8385a" stroke-width="0.9"/>
<line x1="184" y1="248.15" x2="184" y2="251.35" stroke="#c8385a" stroke-width="0.9"/>
<line x1="202" y1="253.4" x2="202" y2="256.6" stroke="#c8385a" stroke-width="0.9"/>
<line x1="204" y1="253.4" x2="204" y2="256.6" stroke="#c8385a" stroke-width="0.9"/>
<line x1="266.6" y1="287.1" x2="266.6" y2="290.3" stroke="#c8385a" stroke-width="0.9"/>
<path d="M331.5 219.5H333.5V221.5H335V224.3H351.5V226.5H355.4V229.2H365.4V231.2H372.3V234.2H379.2V236.5H390.8V238.8H400V241.9H401.5V245.5H409.2V249.2H501.7" fill="none" stroke="#c8385a" stroke-width="1.35" stroke-linejoin="miter" stroke-linecap="butt"/>
<path d="M331.5 219.5H333.5V221.5H334.6V222.8H353V225H370.8V227.6H397.3V230.4H404.6V233.8H423.8V238.1H450.8V242.3H457.5V246.5H478.7V251.3H513.3" fill="none" stroke="#4a6e94" stroke-width="1.35" stroke-linejoin="miter" stroke-linecap="butt"/>
<line x1="386" y1="226" x2="386" y2="229.2" stroke="#4a6e94" stroke-width="0.9"/>
<line x1="391" y1="226" x2="391" y2="229.2" stroke="#4a6e94" stroke-width="0.9"/>
<line x1="410" y1="232.2" x2="410" y2="235.4" stroke="#4a6e94" stroke-width="0.9"/>
<line x1="412" y1="232.2" x2="412" y2="235.4" stroke="#4a6e94" stroke-width="0.9"/>
<line x1="416" y1="232.2" x2="416" y2="235.4" stroke="#4a6e94" stroke-width="0.9"/>
<line x1="422" y1="232.2" x2="422" y2="235.4" stroke="#4a6e94" stroke-width="0.9"/>
<line x1="478" y1="244.9" x2="478" y2="248.1" stroke="#4a6e94" stroke-width="0.9"/>
<line x1="491" y1="249.7" x2="491" y2="252.9" stroke="#4a6e94" stroke-width="0.9"/>
<line x1="492" y1="249.7" x2="492" y2="252.9" stroke="#4a6e94" stroke-width="0.9"/>
<line x1="500" y1="249.7" x2="500" y2="252.9" stroke="#4a6e94" stroke-width="0.9"/>
<line x1="508" y1="249.7" x2="508" y2="252.9" stroke="#4a6e94" stroke-width="0.9"/>
<line x1="380" y1="234.9" x2="380" y2="238.1" stroke="#c8385a" stroke-width="0.9"/>
<line x1="388" y1="234.9" x2="388" y2="238.1" stroke="#c8385a" stroke-width="0.9"/>
<line x1="397" y1="237.2" x2="397" y2="240.4" stroke="#c8385a" stroke-width="0.9"/>
<line x1="403" y1="243.9" x2="403" y2="247.1" stroke="#c8385a" stroke-width="0.9"/>
<line x1="411" y1="247.6" x2="411" y2="250.8" stroke="#c8385a" stroke-width="0.9"/>
<line x1="416" y1="247.6" x2="416" y2="250.8" stroke="#c8385a" stroke-width="0.9"/>
<line x1="430" y1="247.6" x2="430" y2="250.8" stroke="#c8385a" stroke-width="0.9"/>
<line x1="438" y1="247.6" x2="438" y2="250.8" stroke="#c8385a" stroke-width="0.9"/>
<line x1="476" y1="247.6" x2="476" y2="250.8" stroke="#c8385a" stroke-width="0.9"/>
<line x1="490" y1="247.6" x2="490" y2="250.8" stroke="#c8385a" stroke-width="0.9"/>
<line x1="496" y1="247.6" x2="496" y2="250.8" stroke="#c8385a" stroke-width="0.9"/>
<line x1="501" y1="247.6" x2="501" y2="250.8" stroke="#c8385a" stroke-width="0.9"/>
<path d="M103 409.9H104.3V416.8H115V424.4H120.6V431.6H126.25V438.5H132.7V446.5H137.5V453.7H143.1V460.6H148.7V467.6H201.2V478.5H203.5V488.8H203.5" fill="none" stroke="#d5a35a" stroke-width="1.35" stroke-linejoin="miter" stroke-linecap="butt"/>
<path d="M103 409.9H121.4V412.5H123V414.1H139V416.8H141.5V420H143.8V422.4H145.5V425.6H148V428.8H150.3V432H160V438.1H168.7V441.5H186V446.2H192V451.2H195.4V455.4H198.8V460.5H207V465.3H235.8V470.4H280.8" fill="none" stroke="#c43d88" stroke-width="1.35" stroke-linejoin="miter" stroke-linecap="butt"/>
<path d="M103 409.9H121.4V412H123V413.6H141.5V417.3H144.7V420.8H163.1V425H185V434.6H208.8V452.6H241V470.4H264.6" fill="none" stroke="#4a6e94" stroke-width="1.35" stroke-linejoin="miter" stroke-linecap="butt"/>
<line x1="156.7" y1="466" x2="156.7" y2="469.2" stroke="#d5a35a" stroke-width="0.9"/>
<line x1="149" y1="419.2" x2="149" y2="422.4" stroke="#4a6e94" stroke-width="0.9"/>
<line x1="165.8" y1="423.4" x2="165.8" y2="426.6" stroke="#4a6e94" stroke-width="0.9"/>
<line x1="169.8" y1="423.4" x2="169.8" y2="426.6" stroke="#4a6e94" stroke-width="0.9"/>
<line x1="172.7" y1="423.4" x2="172.7" y2="426.6" stroke="#4a6e94" stroke-width="0.9"/>
<line x1="179.6" y1="423.4" x2="179.6" y2="426.6" stroke="#4a6e94" stroke-width="0.9"/>
<line x1="184.8" y1="423.4" x2="184.8" y2="426.6" stroke="#4a6e94" stroke-width="0.9"/>
<line x1="191.2" y1="433" x2="191.2" y2="436.2" stroke="#4a6e94" stroke-width="0.9"/>
<line x1="198.1" y1="433" x2="198.1" y2="436.2" stroke="#4a6e94" stroke-width="0.9"/>
<line x1="264.6" y1="468.8" x2="264.6" y2="472" stroke="#4a6e94" stroke-width="0.9"/>
<line x1="175" y1="439.9" x2="175" y2="443.1" stroke="#c43d88" stroke-width="0.9"/>
<line x1="180" y1="439.9" x2="180" y2="443.1" stroke="#c43d88" stroke-width="0.9"/>
<line x1="270" y1="468.8" x2="270" y2="472" stroke="#c43d88" stroke-width="0.9"/>
<line x1="273" y1="468.8" x2="273" y2="472" stroke="#c43d88" stroke-width="0.9"/>
<path d="M331.5 409.7H333.5V412.3H334.2V416.2H335.4V422.8H351.5V429.5H354.6V436.2H363.8V442.4H378.6V449.3H390.2V459.2H500.6" fill="none" stroke="#d5a35a" stroke-width="1.35" stroke-linejoin="miter" stroke-linecap="butt"/>
<path d="M331.5 409.7H333V412.3H352.6V414.7H370V417.3H397.6V419.9H401V422.5H423.6V427.7H449.9V432H456.3V436.3H478.5V441.2H512.7" fill="none" stroke="#c43d88" stroke-width="1.35" stroke-linejoin="miter" stroke-linecap="butt"/>
<path d="M331.5 409.5H371.6V413H400.2V417.3H402V421.6H408.8V428.4H495.8" fill="none" stroke="#4a6e94" stroke-width="1.35" stroke-linejoin="miter" stroke-linecap="butt"/>
<line x1="413.5" y1="457.6" x2="413.5" y2="460.8" stroke="#d5a35a" stroke-width="0.9"/>
<line x1="500.6" y1="457.6" x2="500.6" y2="460.8" stroke="#d5a35a" stroke-width="0.9"/>
<line x1="379" y1="411.4" x2="379" y2="414.6" stroke="#4a6e94" stroke-width="0.9"/>
<line x1="396.5" y1="411.4" x2="396.5" y2="414.6" stroke="#4a6e94" stroke-width="0.9"/>
<line x1="415" y1="426.8" x2="415" y2="430" stroke="#4a6e94" stroke-width="0.9"/>
<line x1="474" y1="426.8" x2="474" y2="430" stroke="#4a6e94" stroke-width="0.9"/>
<line x1="489.5" y1="426.8" x2="489.5" y2="430" stroke="#4a6e94" stroke-width="0.9"/>
<line x1="495.8" y1="426.8" x2="495.8" y2="430" stroke="#4a6e94" stroke-width="0.9"/>
<line x1="369" y1="413.1" x2="369" y2="416.3" stroke="#c43d88" stroke-width="0.9"/>
<line x1="385" y1="415.7" x2="385" y2="418.9" stroke="#c43d88" stroke-width="0.9"/>
<line x1="390" y1="415.7" x2="390" y2="418.9" stroke="#c43d88" stroke-width="0.9"/>
<line x1="414" y1="420.9" x2="414" y2="424.1" stroke="#c43d88" stroke-width="0.9"/>
<line x1="416" y1="420.9" x2="416" y2="424.1" stroke="#c43d88" stroke-width="0.9"/>
<line x1="421" y1="420.9" x2="421" y2="424.1" stroke="#c43d88" stroke-width="0.9"/>
<line x1="476.5" y1="434.7" x2="476.5" y2="437.9" stroke="#c43d88" stroke-width="0.9"/>
<line x1="491" y1="439.6" x2="491" y2="442.8" stroke="#c43d88" stroke-width="0.9"/>
<line x1="497" y1="439.6" x2="497" y2="442.8" stroke="#c43d88" stroke-width="0.9"/>
<line x1="503" y1="439.6" x2="503" y2="442.8" stroke="#c43d88" stroke-width="0.9"/>
<line x1="508" y1="439.6" x2="508" y2="442.8" stroke="#c43d88" stroke-width="0.9"/>
</svg><div class="frame"></div></div></body></html>
